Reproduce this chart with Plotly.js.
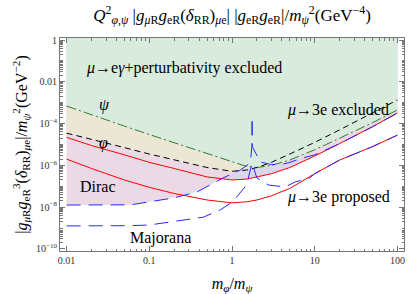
<!DOCTYPE html>
<html><head><meta charset="utf-8">
<script src="https://cdn.plot.ly/plotly-3.0.1.min.js"></script>
<style>html,body{margin:0;padding:0;background:#fff}#plot{width:409px;height:294px}</style>
</head><body><div id="plot"></div>
<script>
// mass ratio grid m_phi/m_psi
const ratio = [0.01,0.02,0.05,0.1,0.2,0.5,1,1.5,2,3,5,10,20,50,100];
// psi perturbativity bound (green dash-dot)
const psiBound = [6.9e-4,2.6e-4,7.6e-5,3.0e-5,1.2e-5,3.5e-6,1.4e-6,8.9e-7,7.9e-7,1.0e-6,1.8e-6,5.6e-6,2.0e-5,1.1e-4,4.5e-4];
// phi perturbativity bound (black dashed)
const phiBound = [3.5e-5,1.8e-5,7.1e-6,3.5e-6,1.8e-6,7.9e-7,5.2e-7,6.0e-7,7.9e-7,1.4e-6,3.5e-6,1.26e-5,5.0e-5,3.2e-4,1.35e-3];
// mu->e gamma curves (red solid)
const redUpper = [2.2e-5,8.9e-6,3.2e-6,1.4e-6,7.1e-7,2.8e-7,2.0e-7,2.2e-7,2.8e-7,4.0e-7,7.9e-7,2.8e-6,1.1e-5,7.1e-5,3.2e-4];
const redLower = [2.0e-6,7.1e-7,2.0e-7,8.9e-8,4.5e-8,2.2e-8,1.6e-8,1.8e-8,2.2e-8,3.5e-8,7.9e-8,4.0e-7,1.8e-6,7.9e-6,2.8e-5];
// mu->3e Dirac (blue long dash, upper)
const diracRatio = [0.01,0.03,0.06,0.1,0.2,0.38,0.78,1.26,1.66,1.74,1.75,1.76,2.2,3.0,4.0,5.0,7.0,10,20,50,100];
const diracBound = [1.26e-8,1.26e-8,1.3e-8,1.8e-8,2.8e-8,5.4e-8,2.5e-7,6.0e-7,1.3e-6,8e-6,2e-4,8e-6,1.45e-6,1.1e-6,1.1e-6,1.4e-6,2.2e-6,3.2e-6,1.1e-5,7.1e-5,3.2e-4];
// mu->3e Majorana (blue long dash, lower)
const majRatio = [0.01,0.03,0.06,0.1,0.2,0.45,0.72,1.02,1.5,1.72,1.75,1.78,2.0,2.75,4.4,5.8,8.7,10,20,50,100];
const majBound = [1.26e-9,1.26e-9,1.3e-9,1.4e-9,2.0e-9,3.3e-9,7.4e-9,1.8e-8,1.15e-7,1.0e-6,1.3e-6,1.0e-6,2.5e-7,1.15e-7,9.3e-8,1.6e-7,2.5e-7,4.0e-7,1.8e-6,7.9e-6,2.8e-5];

const TOP = 10;
function fillAbove(xs, ys, color){
  return {x:[xs[0]].concat(xs,[xs[xs.length-1]]), y:[TOP].concat(ys,[TOP]),
    type:'scatter', mode:'lines', fill:'toself', fillcolor:color, line:{width:0}, hoverinfo:'skip', showlegend:false};
}
function line(xs, ys, color, dash, w){
  return {x:xs, y:ys, type:'scatter', mode:'lines', line:{color:color, dash:dash, width:w||1}, hoverinfo:'skip', showlegend:false};
}
const traces = [
  fillAbove(ratio, redUpper, '#dcd6ec'),
  fillAbove(diracRatio, diracBound, '#ebd9e6'),
  fillAbove(ratio, phiBound, '#ece7d5'),
  fillAbove(ratio, psiBound, '#d8ebdd'),
  line(ratio, psiBound, '#2e7d32', '10px,3px,2px,3px'),
  line(ratio, phiBound, '#000', '6px,4px'),
  line(ratio, redUpper, '#ff0000', 'solid'),
  line(ratio, redLower, '#ff0000', 'solid'),
  line(diracRatio, diracBound, '#2828ff', '14px,8px'),
  line(majRatio, majBound, '#2828ff', '14px,8px')
];

function minorVals(lo, hi){ const v=[]; for(let e=lo;e<hi;e++){ for(let k=2;k<=9;k++) v.push(k*Math.pow(10,e)); } return v; }
const xTicks = [0.01,0.1,1,10,100];
const xTickText = ['0.01','0.1','1','10','100'];
const yTicks = [1,1e-2,1e-4,1e-6,1e-8,1e-10];
const yTickText = ['1','0.01','10<sup>−4</sup>','10<sup>−6</sup>','10<sup>−8</sup>','10<sup>−10</sup>'];
const yMinor = minorVals(-10,0).concat([1e-1,1e-3,1e-5,1e-7,1e-9]);

const serif = '"Liberation Serif", serif';
const tfont = {family:serif, size:10, color:'#333'};
const layout = {
  width:409, height:294, margin:{l:60,r:5,t:38,b:43},
  paper_bgcolor:'#fff', plot_bgcolor:'#fff',
  font:{family:serif, color:'#000'},
  title:{text:'<i>Q</i><sup>2</sup><sub><i>φ</i>,<i>ψ</i></sub> |<i>g</i><sub><i>μ</i>R</sub><i>g</i><sub>eR</sub>(<i>δ</i><sub>RR</sub>)<sub><i>μ</i>e</sub>| |<i>g</i><sub>eR</sub><i>g</i><sub>eR</sub>|/<i>m</i><sub><i>ψ</i></sub><sup>2</sup>(GeV<sup>−4</sup>)',
    font:{family:serif, size:17, color:'#000'}, xref:'paper', x:0.5, xanchor:'center', yref:'container', y:0.95, yanchor:'middle'},
  xaxis:{type:'log', range:[-2.08,2.08], tickvals:xTicks, ticktext:xTickText, ticks:'inside', ticklen:5, tickcolor:'#777',
    showline:true, linecolor:'#777', linewidth:1, mirror:'ticks', showgrid:false, zeroline:false, tickfont:tfont,
    minor:{ticks:'inside', ticklen:2.5, tickcolor:'#777', tickvals:minorVals(-2,2)},
    title:{text:'<i>m</i><sub><i>φ</i></sub>/<i>m</i><sub><i>ψ</i></sub>', font:{family:serif, size:16, color:'#000'}, standoff:12}},
  yaxis:{type:'log', range:[-10.1,0.1], tickvals:yTicks, ticktext:yTickText, ticks:'inside', ticklen:5, tickcolor:'#777',
    showline:true, linecolor:'#777', linewidth:1, mirror:'ticks', showgrid:false, zeroline:false, tickfont:tfont,
    minor:{ticks:'inside', ticklen:2.5, tickcolor:'#777', tickvals:yMinor},
    title:{text:'|<i>g</i><sub><i>μ</i>R</sub><i>g</i><sub>eR</sub><sup>3</sup>(<i>δ</i><sub>RR</sub>)<sub><i>μ</i>e</sub>|/<i>m</i><sub><i>ψ</i></sub><sup>2</sup>(GeV<sup>−2</sup>)', font:{family:serif, size:16, color:'#000'}, standoff:4}},
  annotations:[
    {text:'<i>μ</i>→e<i>γ</i>+perturbativity excluded', x:Math.log10(0.26), y:-1.34, xref:'x', yref:'y', showarrow:false, font:{family:serif,size:16}},
    {text:'<i>ψ</i>', x:Math.log10(0.029), y:-3.1, xref:'x', yref:'y', showarrow:false, font:{family:serif,size:16}},
    {text:'<i>φ</i>', x:Math.log10(0.028), y:-4.93, xref:'x', yref:'y', showarrow:false, font:{family:serif,size:16}},
    {text:'Dirac', x:Math.log10(0.024), y:-7.03, xref:'x', yref:'y', showarrow:false, font:{family:serif,size:16}},
    {text:'Majorana', x:Math.log10(0.135), y:-9.47, xref:'x', yref:'y', showarrow:false, font:{family:serif,size:16}},
    {text:'<i>μ</i>→3e excluded', x:Math.log10(19), y:-3.35, xref:'x', yref:'y', showarrow:false, font:{family:serif,size:16}},
    {text:'<i>μ</i>→3e proposed', x:Math.log10(19.5), y:-7.51, xref:'x', yref:'y', showarrow:false, font:{family:serif,size:16}}
  ]
};
Plotly.newPlot('plot', traces, layout, {staticPlot:true, displayModeBar:false});
</script></body></html>
